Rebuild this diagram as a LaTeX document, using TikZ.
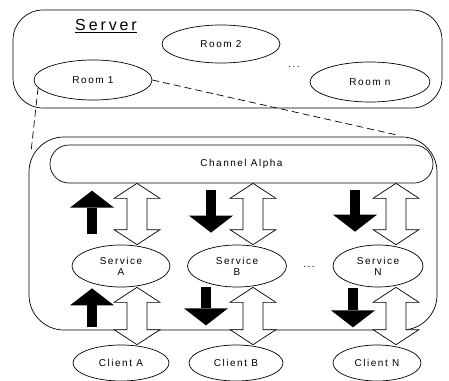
\documentclass[tikz,border=0pt]{standalone}
\usepackage{fontspec}
\setmainfont{Liberation Sans}
\newfontfamily\lblfont[LetterSpace=15]{Liberation Sans}
\newfontfamily\titlefont[LetterSpace=18]{Liberation Sans}
\usetikzlibrary{shapes.geometric,arrows.meta,calc}
% hollow two-way arrow, top tip #1, bottom tip #2
\newcommand\duplexarrow[2]{%
  \draw[fill=white] (#1) -- ++(23,15) -- ++(-13,0) -- ($(#2)+(10,-15)$) -- ++(13,0) -- (#2)
    -- ++(-23,-15) -- ++(13,0) -- ($(#1)+(-10,15)$) -- ++(-13,0) -- cycle;}
\begin{document}
\begin{tikzpicture}[x=1pt,y=-1pt,line width=0.7pt,
  lbl/.style={font=\lblfont\fontsize{10}{11}\selectfont},
  room/.style={draw,ellipse,inner sep=0pt,minimum width=118pt,minimum height=40pt,lbl},
  svc/.style={draw,ellipse,inner sep=0pt,minimum width=98pt,minimum height=42pt,align=center,lbl},
  client/.style={draw,ellipse,inner sep=0pt,minimum width=96pt,minimum height=36pt,lbl},
  solidarrow/.style={line width=10pt,-{Triangle[length=17pt,width=44pt,line width=0pt]}},
  link/.style={dash pattern=on 7pt off 4pt}]
\useasboundingbox (0,0) rectangle (449,380);
% the server with its rooms
\node[draw,rounded corners=30pt,minimum width=429pt,minimum height=98pt] (server) at (227.5,59) {};
\node[font=\titlefont\fontsize{16}{18}\selectfont] (srvlabel) at (106,26) {\underline{Server}};
\node[room] (room1) at (93,80) {Room 1};
\node[room,minimum height=38pt] (room2) at (221,44) {Room 2};
\node[room,minimum width=120pt] (roomn) at (370,82) {Room n};
\node[lbl] (rdots) at (294,67) {...};
% inside of one room
\node[draw,rounded corners=35pt,minimum width=408pt,minimum height=193pt] (roomview) at (233,233.5) {};
\coordinate (zoomL) at (31,152);
\coordinate (zoomR) at (397,135);
\draw[link] (room1.188) -- (zoomL);
\draw[link] (room1.east) -- (zoomR);
\node[draw,rounded corners=19pt,minimum width=383pt,minimum height=38pt,lbl] (channel) at (241.5,164) {Channel Alpha};
\node[svc] (svcA) at (121,266) {Service\\A};
\node[svc,minimum width=99pt] (svcB) at (237,266) {Service\\B};
\node[svc,minimum width=90pt] (svcN) at (378,266) {Service\\N};
\node[lbl] (sdots) at (309,267) {...};
\node[client] (cliA) at (121,363) {Client A};
\node[client,minimum width=94pt] (cliB) at (236,363) {Client B};
\node[client,minimum width=88pt] (cliN) at (377,363) {Client N};
% two-way links
\foreach \n/\d in {A/16,B/16,N/18}{
  \path (svc\n.north) ++(\d,0) coordinate (x\n);
  \coordinate (top\n) at (x\n |- channel.south);
  \coordinate (mid\n) at (x\n |- svc\n.north);
  \coordinate (low\n) at (x\n |- svc\n.south);
  \coordinate (bot\n) at (x\n |- cli\n.north);
  \duplexarrow{top\n}{mid\n}
  \duplexarrow{low\n}{bot\n}
}
% one-way messages
\foreach \n/\dx/\ya/\yb in {A/-29/11/54,B/-26/55/12,N/-23/55/13}
  \draw[solidarrow] ([xshift=\dx pt,yshift=\ya pt]svc\n.north) -- ([xshift=\dx pt,yshift=\yb pt]svc\n.north);
\foreach \n/\dx/\ya/\yb in {A/-29/-40/-1,B/-31/0/-38,N/-25/-1/-40}
  \draw[solidarrow] ([xshift=\dx pt,yshift=\ya pt]svc\n.south) -- ([xshift=\dx pt,yshift=\yb pt]svc\n.south);
\end{tikzpicture}
\end{document}
